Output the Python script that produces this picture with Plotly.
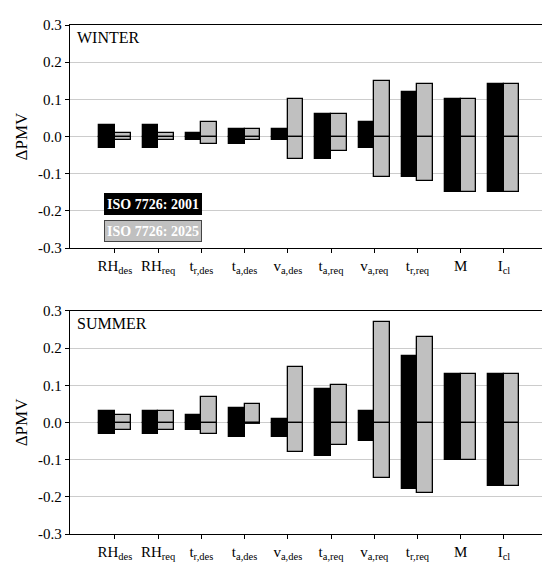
import plotly.graph_objects as go
from plotly.subplots import make_subplots

# parameters (x axis categories)
params = ["RH<sub>des</sub>", "RH<sub>req</sub>", "t<sub>r,des</sub>", "t<sub>a,des</sub>",
          "v<sub>a,des</sub>", "t<sub>a,req</sub>", "v<sub>a,req</sub>", "t<sub>r,req</sub>",
          "M", "I<sub>cl</sub>"]

# winter ΔPMV ranges (upper / lower) for both standards
winter_2001_hi = [0.03, 0.03, 0.01, 0.02, 0.02, 0.06, 0.04, 0.12, 0.10, 0.14]
winter_2001_lo = [-0.03, -0.03, -0.01, -0.02, -0.01, -0.06, -0.03, -0.11, -0.15, -0.15]
winter_2025_hi = [0.01, 0.01, 0.04, 0.02, 0.10, 0.06, 0.15, 0.14, 0.10, 0.14]
winter_2025_lo = [-0.01, -0.01, -0.02, -0.01, -0.06, -0.04, -0.11, -0.12, -0.15, -0.15]

# summer
summer_2001_hi = [0.03, 0.03, 0.02, 0.04, 0.01, 0.09, 0.03, 0.18, 0.13, 0.13]
summer_2001_lo = [-0.03, -0.03, -0.02, -0.04, -0.04, -0.09, -0.05, -0.18, -0.10, -0.17]
summer_2025_hi = [0.02, 0.03, 0.07, 0.05, 0.15, 0.10, 0.27, 0.23, 0.13, 0.13]
summer_2025_lo = [-0.02, -0.02, -0.03, -0.005, -0.08, -0.06, -0.15, -0.19, -0.10, -0.17]

ytick_vals = [-0.3, -0.2, -0.1, 0.0, 0.1, 0.2, 0.3]
ytick_text = ["-0.3", "-0.2", "-0.1", "0.0", "0.1", "0.2", "0.3"]

FONT = "Liberation Serif, DejaVu Serif, serif"
GRAY = "#c0c0c0"
BW = 0.36  # bar width in category units

xs = list(range(len(params)))

fig = make_subplots(rows=2, cols=1, vertical_spacing=0.1235)


def add_panel(row, hi01, lo01, hi25, lo25):
    # black bars (2001), split at zero
    for vals in (hi01, lo01):
        fig.add_trace(go.Bar(x=xs, y=vals, base=0, width=BW, offset=-BW,
                             marker=dict(color="black", line=dict(color="black", width=1.3)),
                             showlegend=False), row=row, col=1)
    # gray bars (2025), split at zero so the middle line shows
    for vals in (hi25, lo25):
        fig.add_trace(go.Bar(x=xs, y=vals, base=0, width=BW, offset=0,
                             marker=dict(color=GRAY, line=dict(color="black", width=1.3)),
                             showlegend=False), row=row, col=1)


add_panel(1, winter_2001_hi, winter_2001_lo, winter_2025_hi, winter_2025_lo)
add_panel(2, summer_2001_hi, summer_2001_lo, summer_2025_hi, summer_2025_lo)

for r in (1, 2):
    fig.update_xaxes(range=[-1.04, 10.02], tickvals=xs, ticktext=params,
                     showline=True, linecolor="black", linewidth=1.3, mirror=True,
                     ticks="outside", ticklen=4, tickcolor="black", showgrid=False,
                     tickfont=dict(family=FONT, size=15, color="black"), row=r, col=1)
    fig.update_yaxes(range=[-0.3, 0.3], tickvals=ytick_vals, ticktext=ytick_text,
                     showline=True, linecolor="black", linewidth=1.3, mirror=True,
                     ticks="outside", ticklen=4, tickcolor="black",
                     showgrid=True, gridcolor="#cccccc", gridwidth=1, zeroline=False,
                     tickfont=dict(family=FONT, size=15, color="black"),
                     title=dict(text="ΔPMV", font=dict(family=FONT, size=17, color="black"),
                                standoff=6),
                     row=r, col=1)

# season labels
fig.add_annotation(x=0.01, y=0.99, xref="x domain", yref="y domain", text="WINTER",
                   showarrow=False, xanchor="left", yanchor="top",
                   font=dict(family=FONT, size=16, color="black"))
fig.add_annotation(x=0.01, y=0.99, xref="x2 domain", yref="y2 domain", text="SUMMER",
                   showarrow=False, xanchor="left", yanchor="top",
                   font=dict(family=FONT, size=16, color="black"))

# legend boxes
fig.add_annotation(x=0.88, y=-0.182, xref="x", yref="y", text="<b>ISO 7726: 2001</b>",
                   showarrow=False, bgcolor="black", bordercolor="black", borderwidth=1,
                   width=94, height=18, font=dict(family=FONT, size=14, color="white"))
fig.add_annotation(x=0.88, y=-0.254, xref="x", yref="y", text="<b>ISO 7726: 2025</b>",
                   showarrow=False, bgcolor=GRAY, bordercolor="#444444", borderwidth=1,
                   width=94, height=18, font=dict(family=FONT, size=14, color="white"))

fig.update_layout(width=550, height=563, barmode="overlay", bargap=0,
                  plot_bgcolor="white", paper_bgcolor="white",
                  font=dict(family=FONT, color="black"),
                  margin=dict(l=62, r=9, t=13, b=30), showlegend=False)

fig.write_html("out.html")
